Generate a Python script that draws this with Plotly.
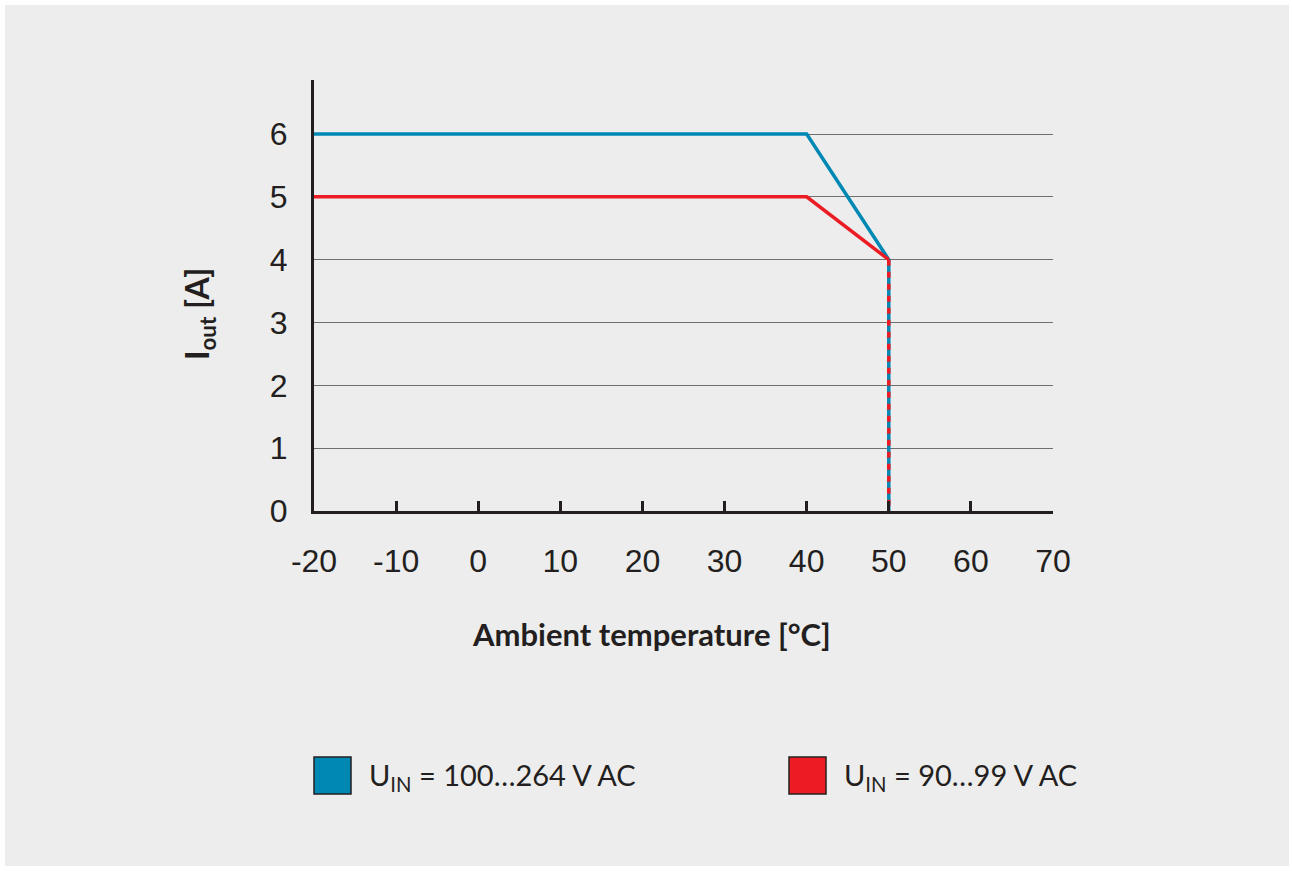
import plotly.graph_objects as go

# ---- data ----
temp_blue = [-20, 40, 50, 50]
iout_blue = [6, 6, 4, 0]
temp_red = [-20, 40, 50]
iout_red = [5, 5, 4]
temp_red_drop = [50, 50]
iout_red_drop = [4, 0]

x_ticks = [-20, -10, 0, 10, 20, 30, 40, 50, 60, 70]
y_ticks = [0, 1, 2, 3, 4, 5, 6]

legend_labels = ["U<sub>IN</sub> = 100…264 V AC", "U<sub>IN</sub> = 90…99 V AC"]
x_title = "<b>Ambient temperature [°C]</b>"
y_title = "<b>I<sub>out</sub> [A]</b>"

BLUE = "#0088b5"
RED = "#ec1c24"
DARK = "#231f20"
BG = "#ededed"

W, H = 1292, 871


def px(x):
    return x / W


def py(y):
    return 1 - y / H


fig = go.Figure()
fig.add_trace(go.Scatter(x=temp_blue, y=iout_blue, mode="lines",
                         line=dict(color=BLUE, width=3.5), showlegend=False, hoverinfo="skip"))
fig.add_trace(go.Scatter(x=temp_red, y=iout_red, mode="lines",
                         line=dict(color=RED, width=3.5), showlegend=False, hoverinfo="skip"))
fig.add_trace(go.Scatter(x=temp_red_drop, y=iout_red_drop, mode="lines",
                         line=dict(color=RED, width=3.5, dash="6px,6px"), showlegend=False, hoverinfo="skip"))

tick_font = dict(family="Liberation Sans, Arial, sans-serif", size=32, color=DARK)

fig.update_layout(
    width=W, height=H, autosize=False,
    margin=dict(l=0, r=0, t=0, b=0, autoexpand=False),
    paper_bgcolor="white",
    plot_bgcolor="rgba(0,0,0,0)",
    showlegend=False,
    xaxis=dict(
        domain=[px(314), px(1053)], range=[-20, 70],
        tickvals=x_ticks, ticktext=[str(v) for v in x_ticks],
        ticks="inside", ticklen=10, tickwidth=3, tickcolor=DARK,
        showline=True, linecolor=DARK, linewidth=3,
        showgrid=False, zeroline=False, tickfont=tick_font,
        ticklabelstandoff=20, fixedrange=True,
    ),
    yaxis=dict(
        domain=[py(511), py(80)], range=[0, 6.86],
        tickvals=y_ticks, ticktext=[str(v) for v in y_ticks],
        ticks="", showline=True, linecolor=DARK, linewidth=3,
        showgrid=True, gridcolor="#707070", gridwidth=1.2,
        zeroline=False, tickfont=tick_font,
        ticklabelstandoff=17, fixedrange=True,
    ),
)

shapes = [
    dict(type="rect", xref="paper", yref="paper", x0=px(5), x1=px(1289), y0=py(866), y1=py(5),
         fillcolor=BG, line=dict(width=0), layer="below"),
    dict(type="rect", xref="paper", yref="paper", x0=px(314), x1=px(351), y0=py(794), y1=py(757),
         fillcolor=BLUE, line=dict(color=DARK, width=1.5)),
    dict(type="rect", xref="paper", yref="paper", x0=px(789), x1=px(826), y0=py(794), y1=py(757),
         fillcolor=RED, line=dict(color=DARK, width=1.5)),
]
fig.update_layout(shapes=shapes)

title_font = dict(family="Lato, Open Sans, sans-serif", size=31, color=DARK)
ytitle_font = dict(family="Lato, Open Sans, sans-serif", size=32, color=DARK)
legend_font = dict(family="Lato, Open Sans, sans-serif", size=29, color=DARK)

fig.add_annotation(text=x_title, xref="paper", yref="paper", x=px(651), y=py(634),
                   xanchor="center", yanchor="middle", showarrow=False, font=title_font)
fig.add_annotation(text=y_title, xref="paper", yref="paper", x=px(199), y=py(314),
                   xanchor="center", yanchor="middle", showarrow=False, textangle=-90, font=ytitle_font)
fig.add_annotation(text=legend_labels[0], xref="paper", yref="paper", x=px(367), y=py(776),
                   xanchor="left", yanchor="middle", showarrow=False, font=legend_font)
fig.add_annotation(text=legend_labels[1], xref="paper", yref="paper", x=px(842), y=py(776),
                   xanchor="left", yanchor="middle", showarrow=False, font=legend_font)

fig.write_html("out.html", config={"displayModeBar": False, "responsive": False},
               post_script="document.body.style.margin='0';document.documentElement.style.overflow='hidden';document.body.style.overflow='hidden';")
